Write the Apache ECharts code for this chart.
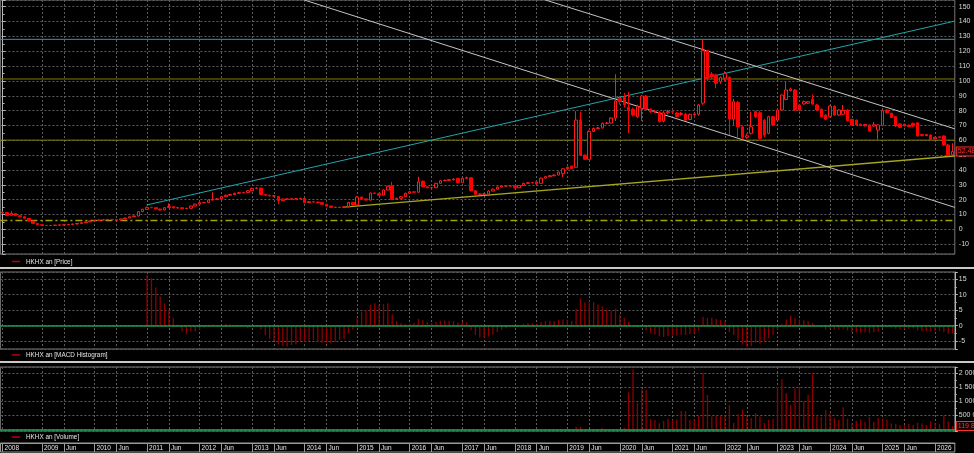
<!DOCTYPE html>
<html><head><meta charset="utf-8">
<script src="https://cdn.jsdelivr.net/npm/echarts@6/dist/echarts.min.js"></script>
<style>html,body{margin:0;padding:0;background:#000;}#c{width:974px;height:453px;}</style>
</head><body><div id="c"></div>
<script>
// ---- categories: monthly bars, Apr 2008 .. May 2026 ----
const startYear = 2008, startMonth = 4, monthCount = 218;
const months = [];
for (let k = 0; k < monthCount; k++) {
  const m = startMonth - 1 + k;
  const y = startYear + Math.floor(m / 12);
  const mm = m % 12 + 1;
  months.push(y + '-' + (mm < 10 ? '0' : '') + mm);
}

// ---- price OHLC ----
const priceOpen = [
11.0,11.3,9.5,10.6,9.2,8.5,7.4,5.6,4.0,3.1,
2.7,2.6,2.7,2.8,3.0,3.1,3.3,3.6,4.0,4.5,
5.0,5.7,6.0,6.3,6.5,6.7,6.5,6.3,7.0,7.6,
8.5,9.0,11.9,13.5,14.8,14.6,13.7,13.0,14.6,15.3,
14.4,14.6,14.0,14.2,15.7,17.0,18.0,18.0,19.8,20.2,
20.6,22.0,23.0,23.5,24.3,24.7,24.7,26.0,27.6,27.8,
23.5,23.0,22.5,22.2,19.3,20.4,20.4,20.6,20.6,20.9,
18.0,18.6,18.4,18.0,16.9,15.7,14.8,14.8,14.8,15.2,
18.2,16.4,21.8,20.5,19.7,24.5,24.2,23.0,26.5,29.2,
20.2,20.9,22.0,24.3,25.3,25.0,32.5,28.7,28.0,28.0,
31.0,32.8,33.0,33.4,34.4,31.4,34.4,34.8,26.0,23.6,
23.8,23.8,25.8,27.0,28.5,29.2,29.2,29.0,28.0,29.5,
31.0,31.4,32.0,31.0,34.5,35.5,36.1,36.6,37.5,40.8,
42.6,41.8,73.6,50.0,47.2,66.0,68.0,68.3,71.4,71.6,
75.0,88.0,89.0,82.2,80.9,75.9,81.5,89.8,80.9,79.3,
79.0,73.0,78.5,79.3,78.4,77.5,77.5,74.0,77.8,77.5,
85.0,120.4,104.6,104.0,99.5,101.8,102.4,74.3,85.5,69.0,
62.0,64.7,79.3,78.6,73.6,64.7,75.9,73.6,80.4,87.5,
93.5,93.9,83.8,84.5,85.0,87.6,83.8,80.9,77.0,75.9,
83.0,77.0,77.5,80.4,74.1,73.6,70.8,69.8,70.3,69.6,
66.9,70.0,80.4,78.2,75.9,71.0,69.8,70.2,71.4,71.8,
63.9,63.2,63.5,61.0,62.4,62.9,56.8,50.2];
const priceClose = [
11.5,9.2,10.8,9.2,8.5,7.4,5.6,4.0,3.1,2.7,
2.6,2.7,2.8,3.0,3.1,3.3,3.6,4.0,4.5,5.0,
5.7,6.0,6.3,6.5,6.7,6.5,6.3,7.0,7.6,8.5,
9.0,11.9,13.5,14.8,14.6,13.7,13.0,14.6,15.3,14.4,
14.6,14.0,14.2,15.7,17.0,18.0,18.0,19.8,20.2,20.6,
22.0,23.0,23.5,24.3,24.7,24.7,26.0,27.6,27.8,23.5,
23.0,22.5,22.5,19.3,20.4,20.4,20.6,20.6,20.9,18.0,
18.6,18.4,18.0,16.9,15.7,14.8,14.8,14.8,15.2,18.2,
16.4,21.8,20.5,19.7,24.5,24.2,23.0,26.5,29.0,20.2,
20.9,22.0,24.3,25.3,25.0,32.0,28.7,28.0,28.0,31.0,
32.8,33.0,33.4,33.9,31.4,34.4,34.8,26.0,23.6,23.8,
23.8,25.8,27.0,28.5,29.2,29.2,29.2,28.0,29.5,31.0,
31.4,31.4,30.5,34.5,35.5,36.1,36.6,38.6,40.8,41.8,
41.0,73.6,50.0,47.2,66.0,68.0,68.3,71.4,71.6,75.0,
86.5,86.0,83.8,80.0,77.0,83.0,89.8,80.9,79.3,79.5,
72.5,78.5,79.3,79.0,76.0,78.0,73.6,77.5,77.0,83.8,
120.4,101.8,102.8,98.4,102.4,105.0,74.3,86.0,69.0,62.0,
63.0,69.1,75.9,61.3,63.5,75.9,70.3,80.4,90.5,93.9,
94.5,80.4,80.4,86.0,86.0,84.4,80.4,75.9,74.1,83.1,
77.0,80.4,80.0,73.2,70.3,70.3,70.0,70.6,66.2,70.5,
70.3,80.0,78.6,75.4,69.6,68.7,70.8,69.2,69.6,62.9,
63.1,63.8,60.6,62.0,61.8,56.8,50.0,52.48];
const priceLow = [
10.8,9.0,9.3,9.0,8.2,7.2,5.4,3.8,2.9,2.5,
2.4,2.5,2.6,2.7,2.9,3.0,3.2,3.5,3.9,4.4,
4.9,5.5,5.8,6.1,6.3,6.3,6.1,6.2,6.9,7.5,
8.3,8.9,11.7,13.3,14.2,13.4,12.7,12.9,14.4,14.1,
14.1,13.7,13.8,14.0,15.5,16.8,17.6,17.8,19.5,19.9,
20.4,21.8,22.7,23.2,24.0,24.3,24.5,25.8,27.2,23.2,
22.6,22.1,22.0,17.0,19.0,20.0,20.1,20.2,20.3,17.7,
17.8,18.1,17.7,16.6,15.4,14.5,14.4,14.4,14.5,15.0,
16.0,16.2,20.1,19.4,19.5,23.8,22.7,22.8,26.3,19.9,
19.8,20.6,21.8,24.0,24.6,24.8,28.4,27.6,27.6,27.8,
30.8,32.4,32.7,33.0,31.1,31.2,34.0,25.7,23.3,23.2,
23.4,23.6,25.6,26.8,28.2,28.8,28.8,27.7,27.8,29.3,
30.7,31.0,30.2,30.8,34.2,35.2,35.8,36.4,35.2,40.5,
40.7,41.5,49.5,46.8,47.0,65.5,67.3,68.0,70.8,71.2,
73.0,84.0,82.0,64.7,76.0,75.0,73.0,80.0,78.5,78.5,
72.0,72.0,77.5,78.0,75.5,76.5,73.0,73.5,76.0,76.5,
84.0,100.0,101.0,95.0,98.0,100.0,63.5,70.0,62.0,60.5,
61.0,64.0,75.0,60.5,62.0,64.0,69.5,73.0,80.0,87.0,
93.0,80.0,79.5,84.0,84.5,84.0,80.0,75.5,73.5,75.5,
76.5,76.5,77.0,72.8,69.8,69.8,69.5,69.3,65.8,69.0,
60.5,69.5,78.0,75.0,69.0,68.2,69.3,68.8,69.0,62.5,
62.6,62.8,60.2,60.6,61.4,56.4,49.5,49.6];
const priceHigh = [
12.0,11.5,12.2,10.8,9.4,8.7,7.5,5.7,4.1,3.2,
2.9,2.9,3.0,3.2,3.3,3.5,3.8,4.2,4.7,5.2,
5.9,6.3,6.6,6.8,7.0,6.9,6.7,7.2,7.8,8.7,
9.3,12.2,13.9,15.3,15.2,14.8,13.9,14.9,17.5,15.5,
14.9,14.8,14.5,16.0,17.3,18.4,18.5,20.2,25.0,21.0,
22.4,23.4,23.9,24.7,25.1,25.2,26.4,28.0,28.3,28.0,
23.8,23.3,23.0,22.4,20.7,20.8,21.0,21.0,21.3,21.1,
18.9,18.8,18.6,18.1,17.0,15.9,15.2,15.2,15.5,18.5,
18.5,22.3,22.0,21.0,24.9,24.9,24.5,26.9,29.4,32.0,
21.3,22.4,24.7,25.7,25.7,35.4,32.8,29.0,28.5,31.4,
33.2,33.5,33.8,34.3,34.7,34.8,35.5,35.2,26.3,24.2,
24.3,26.2,27.4,28.9,29.6,29.7,29.6,29.3,29.9,31.4,
31.8,31.9,32.3,34.9,35.9,36.6,37.0,39.0,41.2,42.3,
43.0,79.6,79.3,50.5,66.8,68.6,69.0,72.0,72.3,75.6,
104.5,90.0,92.0,92.7,82.0,84.0,90.5,90.5,81.5,80.5,
79.5,80.0,80.5,80.0,79.0,79.0,78.5,78.0,78.5,84.5,
127.6,121.0,106.0,105.0,103.0,106.5,103.0,88.0,86.5,70.0,
64.5,79.3,80.0,80.0,74.5,76.5,76.5,81.0,91.0,99.5,
95.5,94.5,84.5,86.8,86.5,91.0,84.5,81.5,77.5,83.5,
83.5,81.0,83.8,81.0,74.5,74.0,71.3,71.0,70.8,72.4,
70.8,80.5,81.0,78.6,76.3,71.4,71.2,70.6,72.0,72.2,
64.3,64.2,63.9,62.4,62.8,63.3,57.5,58.0];

// ---- MACD histogram ----
const macdHist = [
null,null,null,null,null,null,null,null,null,null,
null,null,null,null,null,null,null,null,null,null,
null,null,null,null,null,null,null,null,null,null,
null,null,null,16.4,15.3,12.3,9.4,7.2,5.1,2.6,
0.3,-1.9,-2.7,-1.9,-1.9,-1.4,-0.6,-0.4,0.4,0.1,
0.2,0.6,0.4,0.1,-0.1,-0.2,-0.8,-0.1,-0.3,-1.2,
-3.0,-4.1,-4.9,-6.0,-6.5,-6.7,-6.2,-6.0,-4.9,-5.2,
-4.9,-4.6,-5.2,-5.5,-5.5,-5.7,-5.2,-4.6,-4.3,-2.4,
-1.2,2.4,4.5,5.1,6.7,7.2,6.7,6.9,7.2,3.7,
1.5,0.8,0.5,0.6,0.9,2.2,1.8,1.2,0.9,1.3,
1.6,1.7,1.6,1.5,1.0,1.2,1.1,-1.5,-3.0,-3.8,
-4.0,-3.5,-2.8,-2.0,-1.3,-0.8,-0.4,-0.3,0.2,0.6,
0.9,0.8,0.5,1.2,1.5,1.6,1.5,1.8,2.0,1.9,
1.5,5.5,8.8,7.5,8.0,7.6,6.8,6.2,5.3,4.8,
5.5,3.5,2.6,1.2,0.2,-0.5,-0.4,-1.5,-2.3,-2.8,
-3.5,-3.6,-3.4,-3.2,-3.2,-2.9,-3.0,-2.6,-2.4,-1.6,
2.8,2.5,2.6,2.2,1.9,1.5,-2.0,-3.0,-4.5,-6.0,
-6.8,-6.5,-5.5,-5.8,-5.0,-4.0,-3.0,-1.5,0.5,2.0,
3.2,2.4,2.0,1.8,1.5,0.8,0.2,-0.5,-1.2,-1.0,
-1.2,-1.2,-1.0,-1.5,-2.0,-2.2,-2.3,-2.2,-2.4,-2.1,
-1.9,-0.8,-0.5,-0.6,-1.0,-1.1,-1.0,-1.0,-0.9,-1.5,
-1.7,-1.8,-1.9,-1.8,-1.7,-2.0,-2.6,-2.5];

// ---- volume (thousands of shares) ----
const volumeK = [
4,3,5,3,2,3,4,2,3,2,
2,3,2,2,3,2,2,3,2,3,
3,2,3,2,2,3,2,3,4,5,
6,8,9,7,5,6,5,4,6,5,
4,5,4,5,6,5,6,5,8,6,
5,6,5,5,6,6,7,8,6,7,
6,5,5,6,5,5,5,4,5,6,
5,5,4,5,4,4,5,4,5,7,
6,8,6,6,7,6,6,7,8,9,
7,6,7,6,7,9,8,6,6,7,
6,6,6,6,7,6,7,7,9,7,
6,6,6,6,6,6,6,6,6,7,
6,6,6,7,6,6,6,6,8,9,
8,95,95,10,12,10,10,40,12,10,
10,15,60,1320,2140,950,1430,1400,370,330,
215,300,380,330,350,650,650,330,380,500,
2020,1225,460,500,500,460,870,230,540,710,
440,400,590,460,230,330,380,1520,1785,1285,
870,1460,1520,990,1225,2020,500,440,690,570,
400,330,785,380,230,300,350,260,440,260,
400,380,350,215,190,150,150,190,150,230,
215,150,290,215,190,490,290,119.822];

// ---- drawn study lines: [monthIndex, price] ----
const tealTrend   = [[32.9, 16.4], [217.5, 140.3]];
const tealLevel   = [[-0.5, 128.0], [217.5, 128.0]];
const oliveLevelHi = [[-0.5, 101.3], [217.5, 101.3]];
const oliveLevelLo = [[-0.5, 60.1], [217.5, 60.1]];
const dashLevel   = [[-0.5, 6.0], [217.5, 6.0]];
const supportTrend = [[78.0, 15.0], [217.5, 49.4]];
const chanLower   = [[68.9, 154.5], [217.5, 14.8]];
const chanUpper   = [[124.0, 154.5], [217.5, 67.7]];

// ---- tick labels ----
function isTick(idx, val) {
  const mm = val.slice(5);
  return idx === 0 || mm === '01' || (mm === '06' && idx > 3);
}
function tickLabel(val, idx) {
  const mm = val.slice(5);
  return (idx === 0 || mm === '01') ? val.slice(0, 4) : 'Jun';
}
function spaced(n) {
  return String(Math.round(n)).replace(/\B(?=(\d{3})+(?!\d))/g, ' ');
}

const FONT = 'Liberation Sans';
const gridL = 0.4, gridW = 954.4;
const vSplit = {
  show: true, interval: isTick, alignWithLabel: true,
  lineStyle: { color: '#5c5c5c', type: [2, 2], width: 1 }
};
const hSplit = { show: true, lineStyle: { color: '#5c5c5c', type: [2, 2], width: 1 } };
function yAx(grid, min, max, step, fmt) {
  return {
    type: 'value', gridIndex: grid, position: 'right', min: min, max: max,
    minInterval: step, maxInterval: step,
    axisLine: { show: true, lineStyle: { color: '#b5b5b5' } },
    axisTick: { show: true, length: 3, lineStyle: { color: '#b5b5b5' } },
    minorTick: { show: true, splitNumber: 2, length: 2, lineStyle: { color: '#b5b5b5' } },
    axisLabel: { color: '#dcdcdc', fontSize: 7, fontFamily: FONT, margin: 4,
      showMinLabel: false, showMaxLabel: false, formatter: fmt },
    splitLine: hSplit
  };
}
function catAx(grid, extra) {
  return Object.assign({
    type: 'category', gridIndex: grid, data: months, boundaryGap: true,
    axisLine: { show: false }, axisTick: { show: false }, axisLabel: { show: false },
    splitLine: vSplit
  }, extra || {});
}
function lineSeries(data, color, type, width) {
  return {
    type: 'line', xAxisIndex: 3, yAxisIndex: 0, data: data, showSymbol: false,
    symbol: 'none', silent: true, clip: true, z: 3,
    lineStyle: { color: color, width: width || 1, type: type || 'solid' }
  };
}
const hiddenLine = { color: 'rgba(0,0,0,0)', width: 0 };
const valueBox = {
  show: true, position: 'end', distance: 2,
  color: '#ff3030', backgroundColor: '#1a0000', borderColor: '#ff3030', borderWidth: 1,
  padding: [1, 1, 0, 1], fontSize: 7, fontFamily: FONT
};
function legend(y, text) {
  return [
    { type: 'line', shape: { x1: 12, y1: y, x2: 20, y2: y }, style: { stroke: '#c00000', lineWidth: 1.5 }, silent: true },
    { type: 'text', x: 26, y: y, scaleX: 0.85, originX: 0, style: { text: text, fill: '#e6e6e6',
      font: '7.5px "Liberation Sans"', textVerticalAlign: 'middle' }, silent: true }
  ];
}

const chart = echarts.init(document.getElementById('c'), null, { renderer: 'canvas' });
const ohlc = months.map((_, k) => [priceOpen[k], priceClose[k], priceLow[k], priceHigh[k]]);
const lastClose = priceClose[priceClose.length - 1];
const lastVol = volumeK[volumeK.length - 1];

chart.setOption({
  animation: false,
  backgroundColor: '#000',
  textStyle: { fontFamily: FONT },
  grid: [
    { left: gridL, width: gridW, top: 0, height: 254, show: true, borderColor: '#777', borderWidth: 1, outerBoundsMode: 'none', containLabel: false },
    { left: gridL, width: gridW, top: 272, height: 77, show: true, borderColor: '#777', borderWidth: 1, outerBoundsMode: 'none', containLabel: false },
    { left: gridL, width: gridW, top: 367, height: 64, show: true, borderColor: '#777', borderWidth: 1, outerBoundsMode: 'none', containLabel: false }
  ],
  xAxis: [
    catAx(0),
    catAx(1),
    catAx(2, {
      position: 'bottom', offset: 12,
      axisLine: { show: true, onZero: false, lineStyle: { color: '#9a9a9a' } },
      axisTick: { show: true, interval: isTick, alignWithLabel: true, length: 9, inside: false,
        lineStyle: { color: '#9a9a9a' } },
      axisLabel: { show: true, interval: isTick, formatter: tickLabel, align: 'left',
        verticalAlign: 'middle', margin: 5, padding: [0, 0, 0, 2], color: '#e6e6e6',
        fontSize: 6.5, fontFamily: FONT }
    }),
    { type: 'value', gridIndex: 0, min: -0.5, max: monthCount - 0.5, show: false,
      splitLine: { show: false } }
  ],
  yAxis: [
    yAx(0, -16.6, 154.5, 10),
    yAx(1, -7.5, 17.3, 5),
    yAx(2, -60, 2225, 500, v => spaced(v * 1000))
  ],
  series: [
    {
      type: 'candlestick', xAxisIndex: 0, yAxisIndex: 0, data: ohlc, barWidth: 3, z: 4,
      itemStyle: { color: '#000', borderColor: '#ff1a1a', color0: '#ff0000', borderColor0: '#ff0000', borderWidth: 1 },
      markLine: {
        silent: true, symbol: 'none', animation: false,
        data: [{ yAxis: lastClose }],
        lineStyle: hiddenLine,
        label: Object.assign({ formatter: () => lastClose.toFixed(2) }, valueBox)
      }
    },
    lineSeries(tealLevel, '#23a3ab'),
    lineSeries(oliveLevelHi, '#7e7e08'),
    lineSeries(oliveLevelLo, '#7e7e08'),
    lineSeries(dashLevel, '#a3a300', [7, 3, 2, 3], 1.5),
    lineSeries(tealTrend, '#23a3ab'),
    lineSeries(supportTrend, '#a6a61e', 'solid', 1.3),
    lineSeries(chanLower, '#c4c4c4'),
    lineSeries(chanUpper, '#c4c4c4'),
    {
      type: 'bar', xAxisIndex: 1, yAxisIndex: 1, data: macdHist, barWidth: 1.3,
      itemStyle: { color: '#8e0000' },
      markLine: {
        silent: true, symbol: 'none', animation: false,
        data: [{ yAxis: 0 }],
        lineStyle: { color: '#1c9a52', width: 1.5, type: 'solid' },
        label: { show: false }
      }
    },
    {
      type: 'bar', xAxisIndex: 2, yAxisIndex: 2, data: volumeK, barWidth: 1.3,
      itemStyle: { color: '#8e0000' },
      markLine: {
        silent: true, symbol: 'none', animation: false,
        data: [
          { yAxis: 0, lineStyle: { color: '#1c9a52', width: 1.5, type: 'solid' }, label: { show: false } },
          { yAxis: lastVol, lineStyle: hiddenLine,
            label: Object.assign({ formatter: () => spaced(lastVol * 1000) }, valueBox) }
        ]
      }
    }
  ],
  graphic: [
    { type: 'rect', shape: { x: 0, y: 267, width: 974, height: 2 }, style: { fill: '#c9c9c9' }, silent: true },
    { type: 'rect', shape: { x: 0, y: 361, width: 974, height: 2 }, style: { fill: '#c9c9c9' }, silent: true },
    { type: 'rect', shape: { x: 0.5, y: 443, width: 954.3, height: 9 }, style: { fill: 'none', stroke: '#9a9a9a', lineWidth: 1 }, silent: true }
  ].concat(legend(261.5, 'HKHX an [Price]'), legend(355, 'HKHX an [MACD Histogram]'), legend(437, 'HKHX an [Volume]'))
});
</script></body></html>
